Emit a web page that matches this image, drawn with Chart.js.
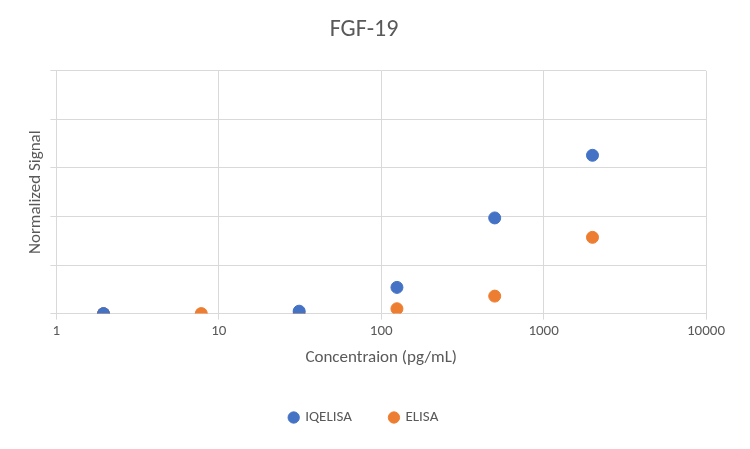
<!DOCTYPE html>
<html><head><meta charset="utf-8">
<script src="https://cdn.jsdelivr.net/npm/chart.js@4/dist/chart.umd.min.js"></script>
<style>body{margin:0;background:#fff}#wrap{width:750px;height:449px}</style>
</head><body><div id="wrap"><canvas id="c"></canvas></div>
<script>
const CONC = [1.95, 7.8, 31.25, 125, 500, 2000];
const ELISA = [0, 0, 0, 0.1, 0.36, 1.57];
const IQELISA_X = [1.95, 31.25, 125, 500, 2000];
const IQELISA = [0, 0.05, 0.54, 1.97, 3.26];
const X_TICKS = [1, 10, 100, 1000, 10000];

const grid = '#d9d9d9';
const font = {family: 'Calibri, Carlito, "Open Sans", sans-serif', size: 15};

new Chart(document.getElementById('c'), {
    type: 'scatter',
    data: {
        datasets: [
            {
                label: 'ELISA', order: 1,
                data: CONC.map((x, i) => ({x, y: ELISA[i]})),
                backgroundColor: '#ed7d31', borderColor: '#ed7d31',
                pointRadius: 6, pointHoverRadius: 6,
            },
            {
                label: 'IQELISA', order: 0,
                data: IQELISA_X.map((x, i) => ({x, y: IQELISA[i]})),
                backgroundColor: '#4472c4', borderColor: '#4472c4',
                pointRadius: 6, pointHoverRadius: 6,
            },
        ]
    },
    options: {
        responsive: true, maintainAspectRatio: false, animation: false,
        layout: {padding: {left: 22, right: 44, top: 6, bottom: 14}},
        scales: {
            x: {
                type: 'logarithmic', min: 1, max: 10000,
                afterBuildTicks: s => { s.ticks = X_TICKS.map(v => ({value: v})); },
                ticks: {color: '#595959', font, callback: v => String(v), maxRotation: 0},
                grid: {color: grid, tickLength: 6},
                border: {color: grid},
                title: {display: true, text: 'Concentraion (pg/mL)', color: '#595959', font: {...font, size: 17}},
            },
            y: {
                min: 0, max: 5,
                ticks: {display: false, stepSize: 1},
                grid: {color: grid, tickLength: 6},
                border: {color: grid},
                title: {display: true, text: 'Normalized Signal', color: '#595959', font: {...font, size: 17}},
            },
        },
        plugins: {
            title: {display: true, text: 'FGF-19', color: '#595959', font: {...font, size: 24, weight: 'normal'}, padding: {top: 10, bottom: 26}},
            legend: {
                position: 'bottom',
                labels: {usePointStyle: true, pointStyle: 'circle', boxWidth: 8, boxHeight: 8, color: '#595959', font, padding: 38},
            },
            tooltip: {enabled: false},
        }
    }
});
</script></body></html>
